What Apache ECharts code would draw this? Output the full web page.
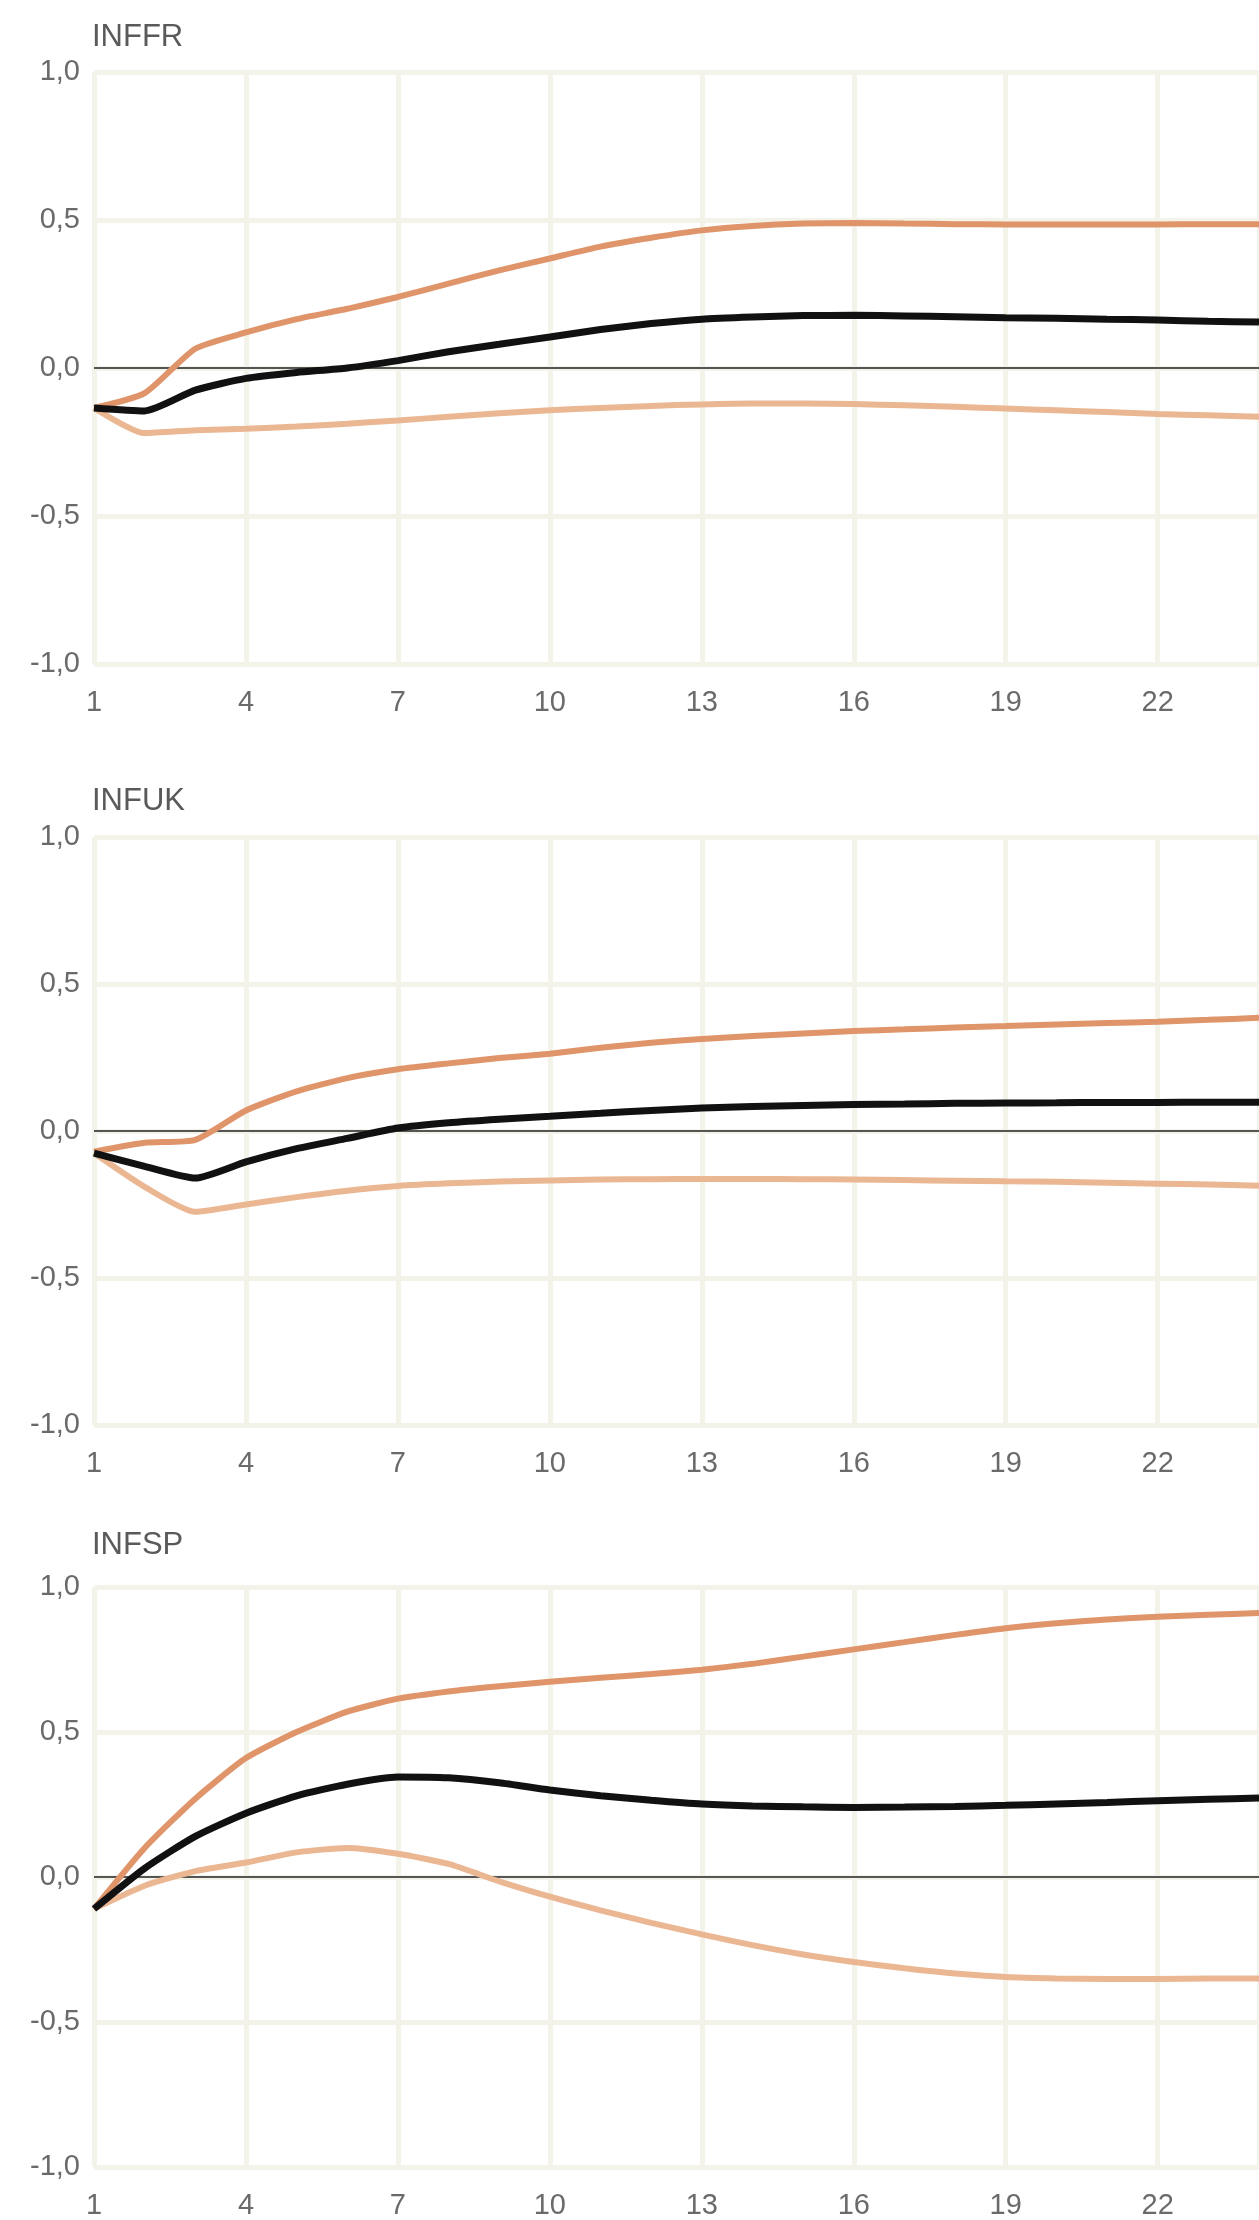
<!DOCTYPE html>
<html>
<head>
<meta charset="utf-8">
<script src="https://cdn.jsdelivr.net/npm/echarts@6/dist/echarts.min.js"></script>
<style>
  html, body { margin: 0; padding: 0; background: #ffffff; }
  #chart { width: 1259px; height: 2220px; }
</style>
</head>
<body>
<div id="chart"></div>
<script>
// ---- data ----
const panelTitles = ["INFFR", "INFUK", "INFSP"];
const periods = [1,2,3,4,5,6,7,8,9,10,11,12,13,14,15,16,17,18,19,20,21,22,23,24];
const xTicks = [1,4,7,10,13,16,19,22];
const yTicks = [-1.0, -0.5, 0.0, 0.5, 1.0];

// INFFR
const frMid   = [-0.135,-0.145,-0.075,-0.035,-0.015,0.0,0.025,0.055,0.08,0.105,0.13,0.15,0.165,0.172,0.177,0.178,0.176,0.173,0.17,0.168,0.165,0.162,0.158,0.155];
const frUpper = [-0.135,-0.085,0.065,0.12,0.165,0.2,0.24,0.285,0.33,0.37,0.41,0.44,0.465,0.48,0.488,0.49,0.488,0.486,0.485,0.485,0.485,0.485,0.486,0.486];
const frLower = [-0.135,-0.22,-0.21,-0.205,-0.198,-0.188,-0.177,-0.165,-0.153,-0.143,-0.135,-0.128,-0.123,-0.12,-0.12,-0.122,-0.126,-0.131,-0.137,-0.143,-0.149,-0.155,-0.16,-0.165];

// INFUK
const ukMid   = [-0.075,-0.12,-0.16,-0.105,-0.06,-0.025,0.01,0.028,0.04,0.05,0.06,0.07,0.078,0.083,0.087,0.09,0.092,0.094,0.095,0.096,0.097,0.097,0.098,0.098];
const ukUpper = [-0.07,-0.04,-0.03,0.07,0.135,0.18,0.21,0.23,0.248,0.263,0.283,0.3,0.313,0.323,0.332,0.34,0.346,0.352,0.357,0.362,0.367,0.372,0.378,0.385];
const ukLower = [-0.075,-0.19,-0.275,-0.25,-0.225,-0.203,-0.187,-0.178,-0.172,-0.168,-0.165,-0.164,-0.163,-0.163,-0.164,-0.165,-0.167,-0.169,-0.171,-0.173,-0.176,-0.179,-0.182,-0.186];

// INFSP
const spMid   = [-0.11,0.03,0.14,0.22,0.28,0.32,0.345,0.342,0.325,0.3,0.28,0.265,0.252,0.245,0.242,0.24,0.241,0.243,0.247,0.252,0.257,0.263,0.268,0.272];
const spUpper = [-0.11,0.1,0.27,0.41,0.5,0.57,0.615,0.64,0.658,0.673,0.687,0.7,0.715,0.735,0.76,0.785,0.81,0.835,0.858,0.875,0.888,0.897,0.904,0.91];
const spLower = [-0.11,-0.03,0.02,0.05,0.085,0.1,0.08,0.045,-0.015,-0.068,-0.115,-0.158,-0.198,-0.235,-0.267,-0.293,-0.315,-0.333,-0.345,-0.35,-0.352,-0.352,-0.35,-0.35];

const panels = [
  { mid: frMid, upper: frUpper, lower: frLower },
  { mid: ukMid, upper: ukUpper, lower: ukLower },
  { mid: spMid, upper: spUpper, lower: spLower }
];

// ---- layout / style ----
const gridBoxes = [
  { left: 94, top: 72,   width: 1167, height: 592 },
  { left: 94, top: 837,  width: 1167, height: 588 },
  { left: 94, top: 1587, width: 1167, height: 581 }
];
const titleTops = [22, 786, 1530];
const FONT = "'Liberation Sans', Arial, sans-serif";
const gridLineColor = '#f3f3ea';
const upperColor = '#df946a';
const lowerColor = '#ebb793';
const midColor = '#111111';

function pairs(arr) { return periods.map((p, i) => [p, arr[i]]); }

const grid = [], xAxis = [], yAxis = [], series = [], title = [];
panels.forEach((pn, k) => {
  grid.push(Object.assign({ containLabel: false }, gridBoxes[k]));
  title.push({
    text: panelTitles[k], left: 92, top: titleTops[k], padding: 0,
    textStyle: { fontFamily: FONT, fontSize: 31, fontWeight: 'normal', color: '#5a5a5a' }
  });
  xAxis.push({
    type: 'value', gridIndex: k, min: 1, max: 24, interval: 3,
    axisLine: { show: false }, axisTick: { show: false },
    axisLabel: {
      showMaxLabel: false, margin: 24, fontFamily: FONT, fontSize: 29, color: '#6a6a6a',
      formatter: v => (xTicks.indexOf(v) >= 0 ? String(v) : '')
    },
    splitLine: { show: true, lineStyle: { color: gridLineColor, width: 5 } }
  });
  yAxis.push({
    type: 'value', gridIndex: k, min: -1, max: 1, interval: 0.5,
    axisLine: { show: false }, axisTick: { show: false },
    axisLabel: {
      margin: 14, fontFamily: FONT, fontSize: 29, color: '#6a6a6a',
      formatter: v => (yTicks.indexOf(v) >= 0 ? v.toFixed(1).replace('.', ',') : '')
    },
    splitLine: { show: true, lineStyle: { color: gridLineColor, width: 5 } }
  });
  series.push({
    type: 'line', xAxisIndex: k, yAxisIndex: k, data: pairs(pn.lower),
    showSymbol: false, smooth: 0.2, z: 2,
    lineStyle: { color: lowerColor, width: 6 }
  });
  series.push({
    type: 'line', xAxisIndex: k, yAxisIndex: k, data: pairs(pn.upper),
    showSymbol: false, smooth: 0.2, z: 3,
    lineStyle: { color: upperColor, width: 6 },
    markLine: {
      silent: true, symbol: 'none', label: { show: false }, z: 1,
      lineStyle: { color: '#555555', width: 2, type: 'solid' },
      data: [{ yAxis: 0 }]
    }
  });
  series.push({
    type: 'line', xAxisIndex: k, yAxisIndex: k, data: pairs(pn.mid),
    showSymbol: false, smooth: 0.2, z: 4,
    lineStyle: { color: midColor, width: 7 }
  });
});

const chart = echarts.init(document.getElementById('chart'), null, { renderer: 'canvas' });
chart.setOption({
  animation: false,
  backgroundColor: '#ffffff',
  title, grid, xAxis, yAxis, series
});
</script>
</body>
</html>
